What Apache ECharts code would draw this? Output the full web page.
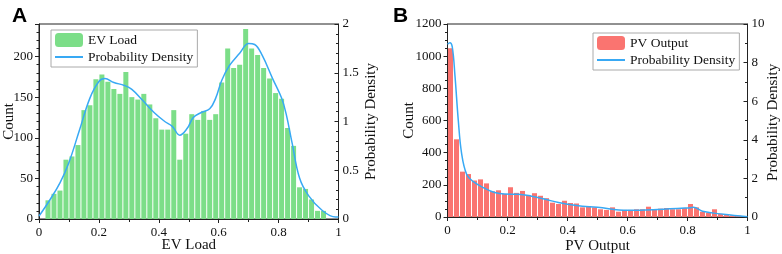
<!DOCTYPE html>
<html>
<head>
<meta charset="utf-8">
<script src="https://cdn.jsdelivr.net/npm/echarts@6/dist/echarts.min.js"></script>
<style>
html, body { margin: 0; padding: 0; background: #fff; }
#main { width: 782px; height: 254px; }
</style>
</head>
<body>
<div id="main"></div>
<script>
// histogram bins: 50 bins of width 0.02 on [0, 1]
var binWidth = 0.02;
var evCounts = [0, 23, 31, 35, 73, 77, 91, 134, 140, 172,
	178, 169, 160, 154, 181, 150, 147, 154, 141, 124,
	110, 110, 134, 73, 105, 129, 122, 133, 122, 129,
	168, 210, 186, 190, 234, 210, 202, 186, 173, 155,
	148, 112, 90, 39, 37, 24, 10, 10, 0, 0];
var pvCounts = [1050, 483, 282, 267, 227, 234, 209, 160, 166, 143,
	185, 150, 162, 131, 148, 132, 117, 89, 81, 101,
	87, 84, 60, 66, 60, 48, 44, 60, 33, 44,
	44, 48, 48, 64, 48, 52, 56, 48, 48, 56,
	81, 60, 33, 27, 48, 19, 12, 10, 8, 5];

// density curves (x, density)
var evDensX = [0, 0.035, 0.07, 0.1, 0.135, 0.17, 0.2, 0.22, 0.25, 0.285, 0.31, 0.345, 0.385, 0.42, 0.445, 0.47, 0.495, 0.515, 0.54, 0.57, 0.59, 0.61, 0.635, 0.67, 0.7, 0.72, 0.745, 0.78, 0.81, 0.825, 0.845, 0.87, 0.9, 0.945, 0.99, 1];
var evDensY = [0.03, 0.19, 0.37, 0.58, 0.91, 1.24, 1.41, 1.44, 1.4, 1.37, 1.33, 1.22, 1.09, 1.0, 0.95, 0.86, 0.93, 1.04, 1.09, 1.13, 1.24, 1.42, 1.57, 1.7, 1.8, 1.79, 1.68, 1.44, 1.24, 1.08, 0.78, 0.42, 0.24, 0.09, 0.02, 0.02];
var pvDensX = [0, 0.008, 0.016, 0.025, 0.036, 0.047, 0.064, 0.086, 0.124, 0.157, 0.19, 0.235, 0.28, 0.325, 0.37, 0.43, 0.5, 0.6, 0.7, 0.8, 0.82, 0.85, 0.92, 1];
var pvDensY = [8.95, 9.03, 8.8, 7.3, 5.0, 3.3, 2.2, 1.83, 1.49, 1.27, 1.19, 1.18, 1.08, 0.92, 0.75, 0.6, 0.5, 0.35, 0.39, 0.47, 0.5, 0.3, 0.14, 0.01];

var evColor = '#7cde88';
var pvColor = '#fa7470';
var lineColor = '#38a9f4';
var serif = 'Liberation Serif';

function toBars(counts) {
	var out = [];
	for (var i = 0; i < counts.length; i++) {
		out.push([binWidth * i + binWidth / 2, counts[i]]);
	}
	return out;
}
function toPairs(xs, ys) {
	var out = [];
	for (var i = 0; i < xs.length; i++) {
		out.push([xs[i], ys[i]]);
	}
	return out;
}
function plain(v) {
	return String(v);
}

function xAxisCfg(idx, name, gap) {
	return {
		type: 'value', gridIndex: idx, min: 0, max: 1, interval: 0.2,
		name: name, nameLocation: 'middle', nameGap: gap, nameMoveOverlap: false,
		nameTextStyle: { fontFamily: serif, fontSize: 15, color: '#111' },
		axisLine: { lineStyle: { color: '#222', width: 1 } },
		axisTick: { inside: false, length: 4, lineStyle: { color: '#222' } },
		minorTick: { show: true, splitNumber: 2, length: 3, lineStyle: { color: '#222' } },
		axisLabel: { fontFamily: serif, fontSize: 13, color: '#111', margin: 7, formatter: plain },
		splitLine: { show: false }
	};
}
function yAxisCfg(idx, pos, max, interval, minor, name, gap, inside) {
	return {
		type: 'value', gridIndex: idx, position: pos, min: 0, max: max, interval: interval,
		name: name, nameLocation: 'middle', nameGap: gap, nameMoveOverlap: false,
		nameTextStyle: { fontFamily: serif, fontSize: 15, color: '#111' },
		axisLine: { show: true, lineStyle: { color: '#222', width: 1 } },
		axisTick: { show: true, inside: inside, length: 4, lineStyle: { color: '#222' } },
		minorTick: { show: true, splitNumber: minor, length: 2.5, lineStyle: { color: '#222' } },
		axisLabel: {
			fontFamily: serif, fontSize: 13, color: '#111', margin: inside ? 4 : 6, formatter: plain,
			showMaxLabel: interval * Math.round(max / interval) == max
		},
		splitLine: { show: false }
	};
}
function legendCfg(left, top, barName, lineName) {
	return {
		left: left, top: top, orient: 'vertical', itemGap: 3, itemWidth: 28, itemHeight: 14,
		padding: [3, 4, 3, 3], borderColor: '#aaa', borderWidth: 1,
		textStyle: { fontFamily: serif, fontSize: 13.5, color: '#111' },
		formatter: function(name) { return name.trim(); },
		data: [
			{ name: barName },
			{ name: lineName, itemStyle: { opacity: 0 } }
		]
	};
}

var myChart = echarts.init(document.getElementById('main'));
option = {
	animation: false,
	title: [
		{ text: 'A', left: 7, top: 1, textStyle: { fontFamily: 'Liberation Sans', fontWeight: 'bold', fontSize: 21, color: '#000' } },
		{ text: 'B', left: 388, top: 1, textStyle: { fontFamily: 'Liberation Sans', fontWeight: 'bold', fontSize: 21, color: '#000' } }
	],
	grid: [
		{ left: 39, right: 443.5, top: 24, bottom: 35, outerBoundsMode: 'none', show: true, borderColor: '#222', borderWidth: 1 },
		{ left: 447.5, right: 34.5, top: 24, bottom: 37, outerBoundsMode: 'none', show: true, borderColor: '#222', borderWidth: 1 }
	],
	legend: [
		legendCfg(51, 30, 'EV Load', 'Probability Density'),
		legendCfg(593, 33, 'PV Output', 'Probability Density ')
	],
	xAxis: [
		xAxisCfg(0, 'EV Load', 19),
		xAxisCfg(1, 'PV Output', 22)
	],
	yAxis: [
		yAxisCfg(0, 'left', 240, 50, 5, 'Count', 22, false),
		yAxisCfg(0, 'right', 2, 0.5, 5, 'Probability Density', 25, true),
		yAxisCfg(1, 'left', 1200, 200, 4, 'Count', 31, false),
		yAxisCfg(1, 'right', 10, 2, 2, 'Probability Density ', 18, true)
	],
	series: [
		{
			name: 'EV Load', type: 'bar', xAxisIndex: 0, yAxisIndex: 0,
			barWidth: 5, itemStyle: { color: evColor },
			data: toBars(evCounts)
		},
		{
			name: 'Probability Density', type: 'line', xAxisIndex: 0, yAxisIndex: 1,
			smooth: 0.4, symbol: 'none', lineStyle: { color: lineColor, width: 1.5 }, itemStyle: { color: lineColor },
			data: toPairs(evDensX, evDensY), z: 5
		},
		{
			name: 'PV Output', type: 'bar', xAxisIndex: 1, yAxisIndex: 2,
			barWidth: 5, itemStyle: { color: pvColor },
			data: toBars(pvCounts)
		},
		{
			name: 'Probability Density ', type: 'line', xAxisIndex: 1, yAxisIndex: 3,
			smooth: 0.4, symbol: 'none', lineStyle: { color: lineColor, width: 1.5 }, itemStyle: { color: lineColor },
			data: toPairs(pvDensX, pvDensY), z: 5
		}
	]
};
myChart.setOption(option);
</script>
</body>
</html>
